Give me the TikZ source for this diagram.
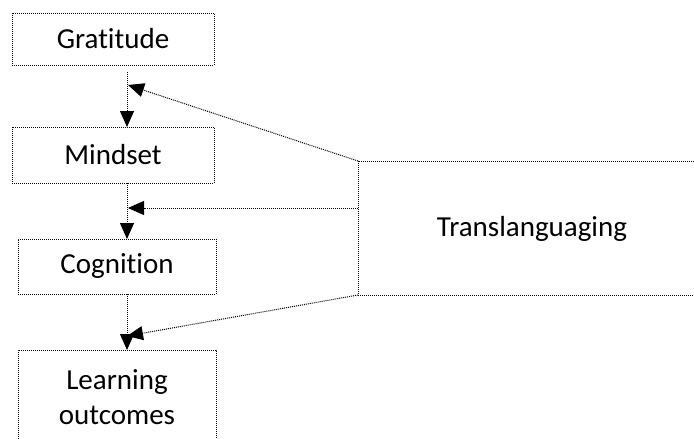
\documentclass[tikz,border=0pt]{standalone}
\usepackage{fontspec}
\setmainfont[Ligatures=NoCommon]{Carlito}
\usetikzlibrary{arrows.meta}
\tikzset{
  dotline/.style={line width=1pt, dash pattern=on 1pt off 1pt},
  boxnode/.style={draw, dotline, rectangle, inner sep=0pt, align=center,
    font=\fontsize{29}{35}\selectfont},
  plaintext/.style={inner sep=0pt, align=center, font=\fontsize{29}{35}\selectfont},
  conn/.style={dotline, -{Triangle[length=16pt,width=14pt]}},
}
\begin{document}
\begin{tikzpicture}[x=1pt,y=-1pt]
\useasboundingbox (0,0) rectangle (694,439);
% boxes
\node[boxnode, minimum width=202pt, minimum height=52pt] (grat) at (113,39) {Gratitude};
\node[boxnode, minimum width=202pt, minimum height=56pt] (mind) at (113,155) {Mindset};
\node[boxnode, minimum width=198pt, minimum height=55pt] (cogn) at (117,266.5) {Cognition};
\node[plaintext] (learn) at (117,397) {Learning\\outcomes};
\draw[dotline] (18,439) -- (18,350) -- (216,350) -- (216,439);
\node[plaintext] (trans) at (532,229) {Translanguaging};
\draw[dotline] (694,161) -- (358,161) -- (358,295) -- (694,295);
% anchor points
\coordinate (tTop) at (358,161);
\coordinate (tMid) at (358,208);
\coordinate (tBot) at (358,295);
\coordinate (a1s) at (127,72);
\coordinate (a1e) at (127,127);
\coordinate (a2s) at (127,183);
\coordinate (a2e) at (127,239);
\coordinate (a3s) at (127,294);
\coordinate (a3e) at (127,350);
\coordinate (d1) at (128,85);
\coordinate (d2) at (128,208);
\coordinate (d3) at (127,336);
% connectors
\draw[conn] (a1s) -- (a1e);
\draw[conn] (a2s) -- (a2e);
\draw[conn] (a3s) -- (a3e);
\draw[conn] (tTop) -- (d1);
\draw[conn] (tMid) -- (d2);
\draw[conn] (tBot) -- (d3);
\end{tikzpicture}
\end{document}
